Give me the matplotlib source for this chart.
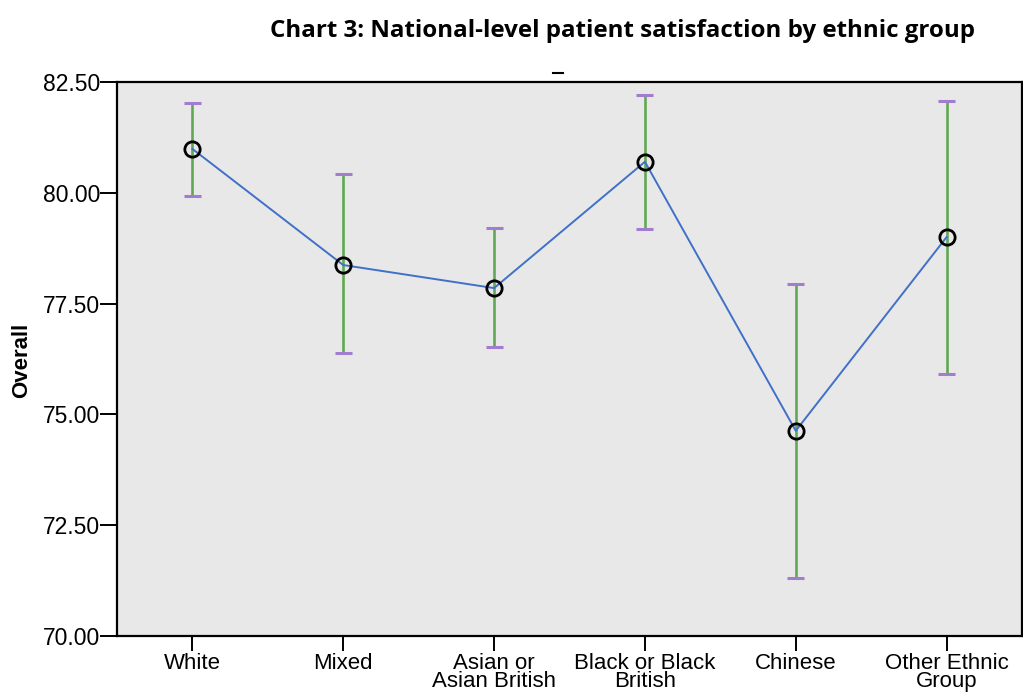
import matplotlib
matplotlib.use("Agg")
import matplotlib.pyplot as plt
from matplotlib.lines import Line2D

groups = ["White", "Mixed", "Asian or\nAsian British", "Black or Black\nBritish",
          "Chinese", "Other Ethnic\nGroup"]
means = [80.99, 78.37, 77.85, 80.70, 74.63, 79.00]
upper = [82.03, 80.42, 79.21, 82.21, 77.94, 82.07]
lower = [79.93, 76.39, 76.52, 79.18, 71.31, 75.91]
yticks = [70.0, 72.5, 75.0, 77.5, 80.0, 82.5]

fig = plt.figure(figsize=(10.23, 6.97), dpi=100)
ax = fig.add_axes([117 / 1023, 1 - 636 / 697, (1022 - 117) / 1023, (636 - 82) / 697])
ax.set_facecolor("#e8e8e8")

x = list(range(len(groups)))
cap = 0.056
for xi, lo, hi in zip(x, lower, upper):
    ax.plot([xi, xi], [lo, hi], color="#62a854", lw=1.9, zorder=2)
    ax.plot([xi - cap, xi + cap], [hi, hi], color="#a27cd0", lw=2.2, zorder=2,
            solid_capstyle="butt")
    ax.plot([xi - cap, xi + cap], [lo, lo], color="#a27cd0", lw=2.2, zorder=2,
            solid_capstyle="butt")

ax.plot(x, means, color="#4070c8", lw=1.4, zorder=3)
ax.plot(x, means, ls="none", marker="o", ms=11, mfc="none", mec="black", mew=2.0, zorder=4)

ax.set_xlim(-0.5, 5.5)
ax.set_ylim(70, 82.5)
ax.set_xticks(x)
ax.set_xticklabels(groups, fontsize=16, family="Liberation Sans", linespacing=0.85)
ax.set_yticks(yticks)
ax.set_yticklabels([f"{v:.2f}" for v in yticks], fontsize=16.5, family="Liberation Sans")
ax.tick_params(axis="y", length=12, width=1.4, pad=0)
ax.tick_params(axis="x", length=11, width=1.4, pad=1)
for s in ax.spines.values():
    s.set_linewidth(1.6)

fig.text(22 / 1023, 1 - 360 / 697, "Overall", rotation=90, ha="center", va="center",
         fontsize=16, fontweight="bold", family="Liberation Sans")

fig.text(622 / 1023, 1 - 31 / 697, "Chart 3: National-level patient satisfaction by ethnic group",
         ha="center", va="center", fontsize=17.4, fontweight="bold", family="Open Sans")
fig.add_artist(Line2D([553 / 1023, 563 / 1023], [1 - 73 / 697, 1 - 73 / 697],
                      color="black", lw=1.5, transform=fig.transFigure))

fig.savefig("out.png", dpi=100)
